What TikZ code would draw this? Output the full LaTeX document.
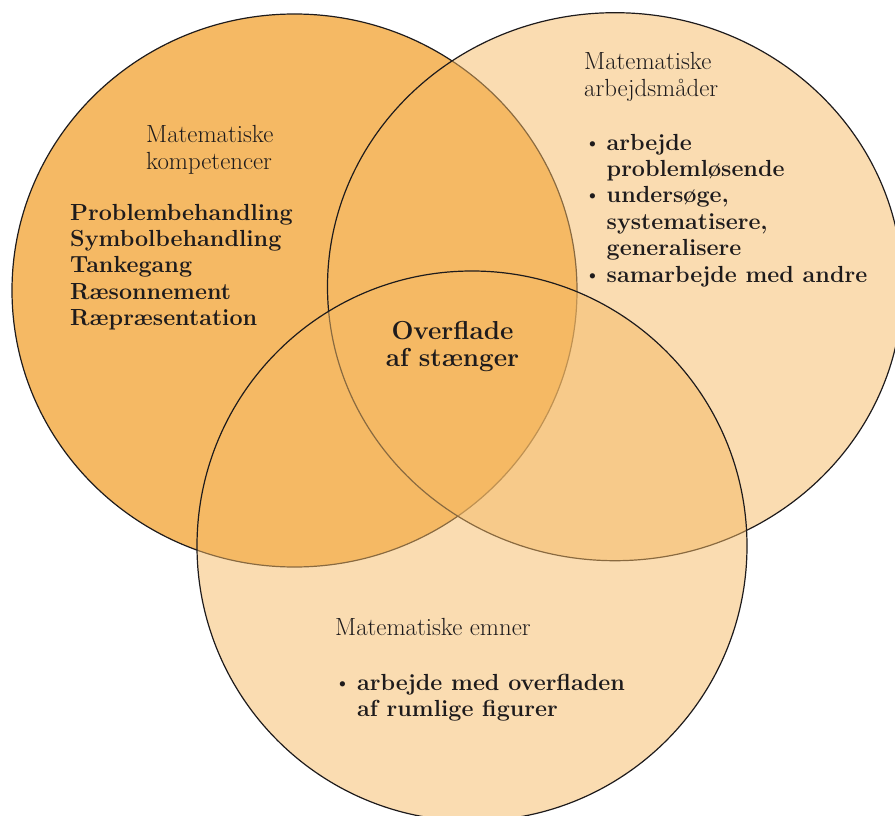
\documentclass[tikz,border=0pt]{standalone}
\usepackage{fontspec}
\definecolor{venn}{RGB}{245,185,100}
\definecolor{ink}{RGB}{30,27,28}
\begin{document}
\begin{tikzpicture}[x=1pt,y=-1pt,
  ring/.style={fill=venn, draw=ink, line width=1.2pt},
  softring/.style={ring, fill opacity=0.5},
  headtxt/.style={anchor=base west, inner sep=0pt, text=ink, font=\fontsize{24.8}{27}\selectfont},
  itemtxt/.style={anchor=base west, inner sep=0pt, text=ink, font=\fontsize{23.3}{26}\selectfont\bfseries},
  bultxt/.style={anchor=base west, inner sep=0pt, text=ink, font=\fontsize{23.3}{26}\selectfont},
  centertxt/.style={anchor=base, inner sep=0pt, text=ink, font=\fontsize{26}{28}\selectfont\bfseries},
]
\useasboundingbox (0,0) rectangle (895,816);
\begin{scope}
  \clip (0,0) rectangle (895,816);
  \path[ring] (294.5,290.5) ellipse [x radius=282.5pt, y radius=276.5pt];
  \path[softring] (615,286.7) ellipse [x radius=287.5pt, y radius=274pt];
  \path[softring] (472,546) ellipse [x radius=275pt, y radius=275pt];
\end{scope}

% left circle
\node[headtxt] (k1) at (146,142.3) {Matematiske};
\node[headtxt] (k2) at (146,169.3) {kompetencer};
\node[itemtxt] (l1) at (70,220) {Problembehandling};
\node[itemtxt] (l2) at (70,246.4) {Symbolbehandling};
\node[itemtxt] (l3) at (70,272.8) {Tankegang};
\node[itemtxt] (l4) at (70,299.2) {Ræsonnement};
\node[itemtxt] (l5) at (70,325.6) {Ræpræsentation};

% right circle
\node[headtxt] (a1) at (584,70) {Matematiske};
\node[headtxt] (a2) at (584,97) {arbejdsmåder};
\node[bultxt] (b1) at (584,150) {\textbullet};
\node[itemtxt] (r1) at (606.5,150) {arbejde};
\node[itemtxt] (r2) at (606.5,176.4) {problemløsende};
\node[bultxt] (b2) at (584,202.8) {\textbullet};
\node[itemtxt] (r3) at (606.5,202.8) {undersøge,};
\node[itemtxt] (r4) at (606.5,229.2) {systematisere,};
\node[itemtxt] (r5) at (606.5,255.6) {generalisere};
\node[bultxt] (b3) at (584,282) {\textbullet};
\node[itemtxt] (r6) at (606.5,282) {samarbejde med andre};

% bottom circle
\node[headtxt] (e1) at (335,635.7) {Matematiske emner};
\node[bultxt] (b4) at (334,690) {\textbullet};
\node[itemtxt] (u1) at (357,690) {arbejde med overfladen};
\node[itemtxt] (u2) at (357,716.5) {af rumlige figurer};

% centre
\node[centertxt] (c1) at (452.5,339) {Overflade};
\node[centertxt] (c2) at (452.5,366) {af stænger};
\end{tikzpicture}
\end{document}
